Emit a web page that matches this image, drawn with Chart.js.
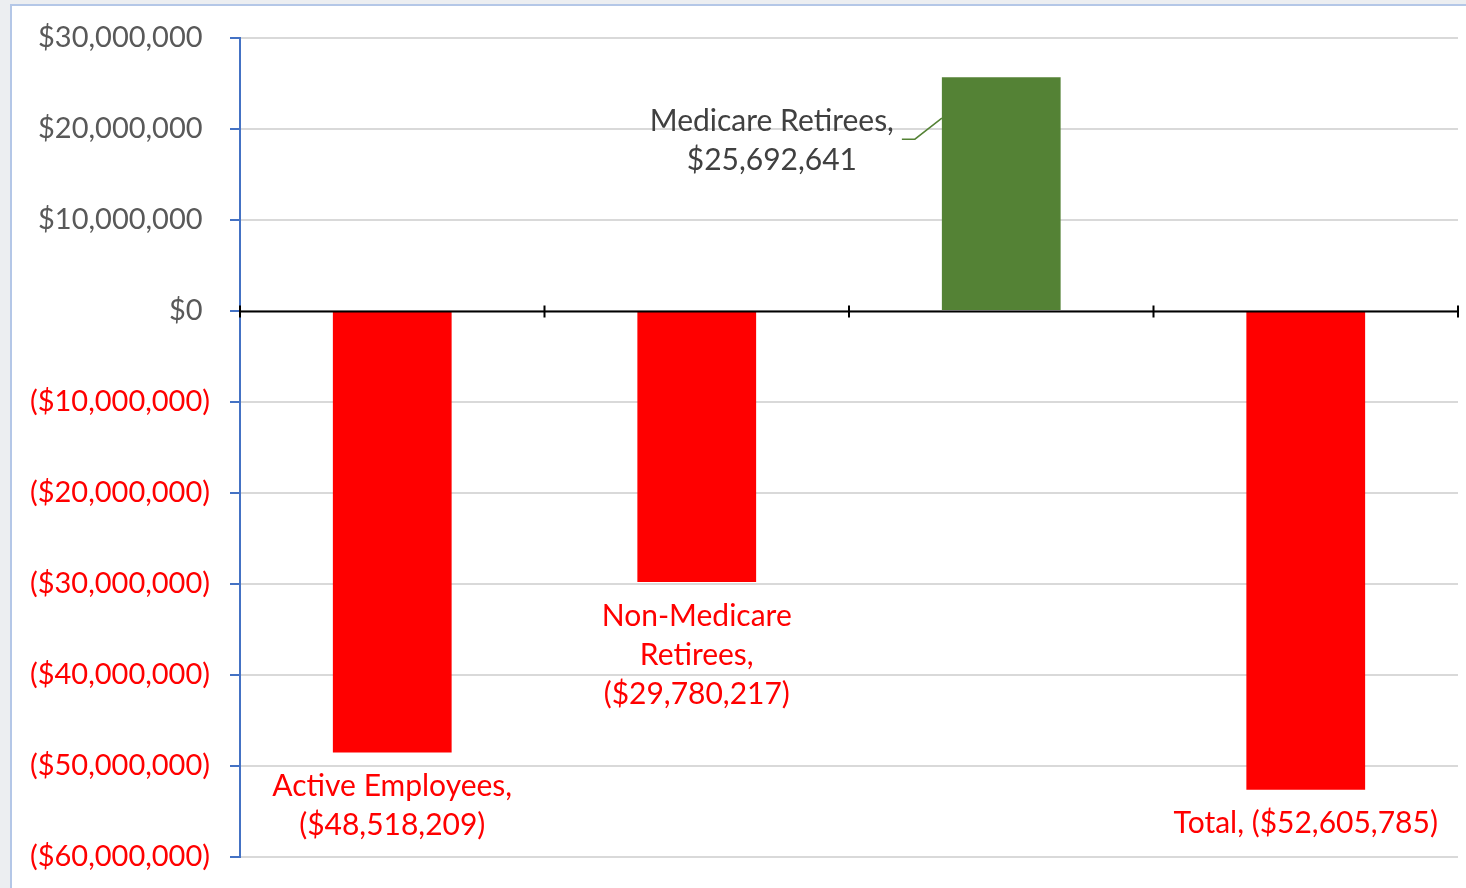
<!DOCTYPE html>
<html>
<head>
<meta charset="utf-8">
<script src="https://cdn.jsdelivr.net/npm/chart.js@4"></script>
<style>
  html, body { margin: 0; padding: 0; background: #eceef1; }
  canvas { display: block; }
</style>
</head>
<body>
<canvas id="myChart" width="1466" height="888"></canvas>
<script>
const categories = ["Active Employees", "Non-Medicare Retirees", "Medicare Retirees", "Total"];
const values = [-48518209, -29780217, 25692641, -52605785];
const barColors = ['#ff0000', '#ff0000', '#548235', '#ff0000'];
// how each data label is broken into lines
const labelLines = [
  ["Active Employees,", "($48,518,209)"],
  ["Non-Medicare", "Retirees,", "($29,780,217)"],
  ["Medicare Retirees,", "$25,692,641"],
  ["Total, ($52,605,785)"]
];
const labelColors = ['#ff0000', '#ff0000', '#404040', '#ff0000'];

const FONT = 'Lato, "Noto Sans", sans-serif';

function money(v) {
  const s = '$' + Math.abs(v).toLocaleString('en-US');
  return v < 0 ? '(' + s + ')' : s + ' ';
}

// frame, zero line with category ticks, and data labels
const extras = {
  id: 'extras',
  beforeDraw(chart) {
    const c = chart.ctx;
    c.save();
    c.fillStyle = '#eceef1';
    c.fillRect(0, 0, chart.width, chart.height);
    c.fillStyle = '#ffffff';
    c.fillRect(11, 5, chart.width - 11, chart.height - 5);
    c.strokeStyle = '#b4c7e7';
    c.lineWidth = 2;
    c.beginPath();
    c.moveTo(11, chart.height);
    c.lineTo(11, 5);
    c.lineTo(chart.width, 5);
    c.stroke();
    c.restore();
  },
  afterDatasetsDraw(chart) {
    const c = chart.ctx;
    const y = chart.scales.y;
    const area = chart.chartArea;
    const y0 = Math.round(y.getPixelForValue(0)) + 0.5;
    c.save();
    c.strokeStyle = '#000000';
    c.lineWidth = 2;
    c.beginPath();
    c.moveTo(area.left, y0);
    c.lineTo(area.right, y0);
    for (let i = 0; i <= categories.length; i++) {
      const px = area.left + (area.right - area.left) * i / categories.length;
      c.moveTo(px, y0 - 6);
      c.lineTo(px, y0 + 6);
    }
    c.stroke();

    // data labels
    const meta = chart.getDatasetMeta(0);
    c.font = '30px ' + FONT;
    c.textBaseline = 'middle';
    c.textAlign = 'center';
    meta.data.forEach((bar, i) => {
      const lines = labelLines[i];
      c.fillStyle = labelColors[i];
      if (values[i] < 0) {
        lines.forEach((t, k) => c.fillText(t, bar.x, bar.y + 34 + k * 39));
      } else {
        const left = bar.x - bar.width / 2;
        const cx = left - 170;
        lines.forEach((t, k) => c.fillText(t, cx, bar.y + 44 + k * 39));
        c.strokeStyle = '#548235';
        c.lineWidth = 1.5;
        c.beginPath();
        c.moveTo(left - 40, bar.y + 62);
        c.lineTo(left - 27, bar.y + 62);
        c.lineTo(left, bar.y + 41);
        c.stroke();
      }
    });
    c.restore();
  }
};

new Chart(document.getElementById('myChart'), {
  type: 'bar',
  data: {
    labels: categories,
    datasets: [{
      data: values,
      backgroundColor: barColors,
      borderWidth: 0,
      barPercentage: 0.39,
      categoryPercentage: 1
    }]
  },
  options: {
    responsive: false,
    animation: false,
    layout: { padding: { top: 38, bottom: 31, right: 8, left: 0 } },
    plugins: {
      legend: { display: false },
      tooltip: { enabled: false }
    },
    scales: {
      x: { display: false },
      y: {
        min: -60000000,
        max: 30000000,
        afterFit(scale) {
          scale.width = 240;
          scale.paddingTop = 0;
          scale.paddingBottom = 0;
        },
        border: { color: '#4472c4', width: 2 },
        grid: {
          color: '#d9d9d9',
          lineWidth: 2,
          tickColor: '#4472c4',
          tickLength: 10
        },
        ticks: {
          stepSize: 10000000,
          padding: 20,
          font: { family: FONT, size: 29 },
          color: ctx => ctx.tick.value < 0 ? '#ff0000' : '#595959',
          callback: v => money(v)
        }
      }
    }
  },
  plugins: [extras]
});
</script>
</body>
</html>
